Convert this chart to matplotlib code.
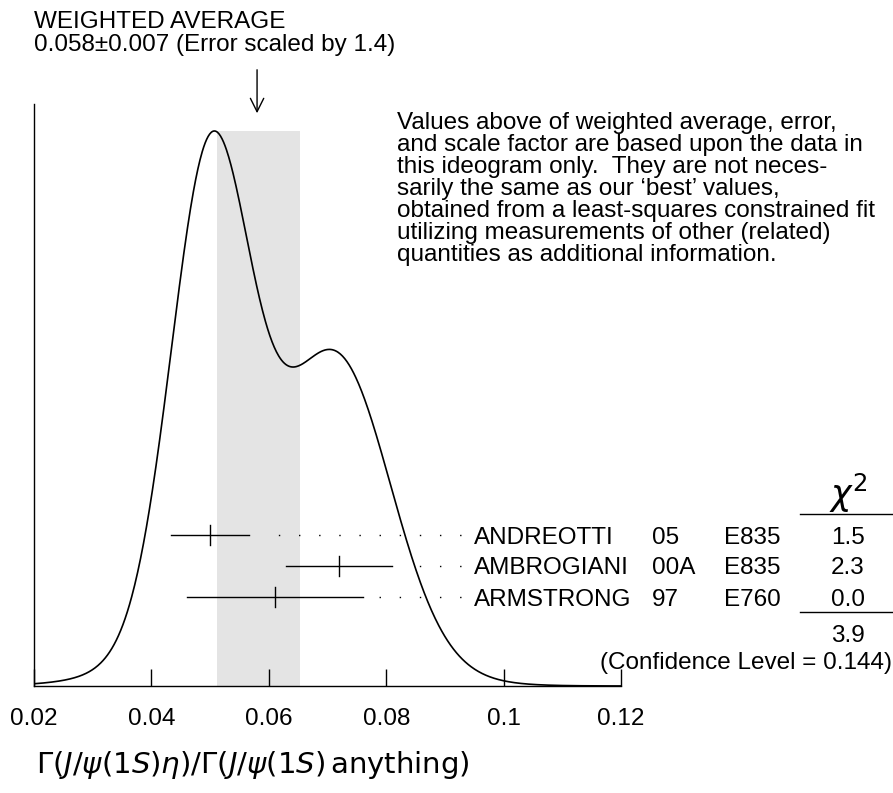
import numpy as np
import matplotlib
matplotlib.use('Agg')
import matplotlib.pyplot as plt
import matplotlib.transforms as mtransforms

plt.rcParams['font.family'] = ['Liberation Sans', 'DejaVu Sans']
plt.rcParams['mathtext.fontset'] = 'dejavusans'

names = ['ANDREOTTI', 'AMBROGIANI', 'ARMSTRONG']
years = ['05', '00A', '97']
exps = ['E835', 'E835', 'E760']
values = [0.050, 0.072, 0.061]
errors = [0.0067, 0.009, 0.015]
chi2 = ['1.5', '2.3', '0.0']
chi2_total = '3.9'
conf_level = '0.144'
avg, avg_err, scale = 0.058, 0.007, 1.4
band = [0.0511, 0.0653]
xticks = [0.02, 0.04, 0.06, 0.08, 0.10, 0.12]
xticklabels = ['0.02', '0.04', '0.06', '0.08', '0.1', '0.12']

W, H = 893, 793
FS = 17.5
fig = plt.figure(figsize=(W / 100, H / 100), dpi=100)
ax = fig.add_axes([34 / W, (H - 686) / H, 587 / W, 582 / H])


def fy(py):
    return (H - py) / H


# ideogram: gaussians with height ~ 1/sigma^2
x = np.linspace(0.02, 0.12, 800)
v = np.array(values)
e = np.array(errors)
y = np.sum(np.exp(-0.5 * ((x[:, None] - v) / e) ** 2) / e ** 2, axis=1)
peak = y.max()
ymax = peak * 582 / 555

ax.fill_between(band, 0, peak, color='#e4e4e4', lw=0, zorder=0)
ax.plot(x, y, color='black', lw=1.2, zorder=3)
ax.set_xlim(0.02, 0.12)
ax.set_ylim(0, ymax)

for s in ['top', 'right']:
    ax.spines[s].set_visible(False)
ax.spines['left'].set_linewidth(1.0)
ax.spines['bottom'].set_linewidth(1.0)
ax.set_yticks([])
ax.set_xticks(xticks)
ax.set_xticklabels(xticklabels)
ax.tick_params(axis='x', direction='in', length=12.5, width=1.0,
               labelsize=FS, pad=16)

# data rows
tr = mtransforms.blended_transform_factory(ax.transData, fig.transFigure)
rows_px = [535, 566, 597]
dot_end = 0.02 + (461 - 34) / 5870
for i in range(len(names)):
    yy = fy(rows_px[i])
    ax.plot([values[i] - errors[i], values[i] + errors[i]], [yy, yy],
            transform=tr, color='black', lw=1.0, clip_on=False, zorder=4)
    ax.plot([values[i], values[i]], [yy - 10 / H, yy + 10 / H],
            transform=tr, color='black', lw=1.0, clip_on=False, zorder=4)
    ax.plot([dot_end, values[i] + errors[i] + 0.002], [yy, yy],
            transform=tr, color='black', lw=1.0,
            linestyle=(0, (1, 13.5)), clip_on=False, zorder=2)
    fig.text(474 / W, yy, names[i], fontsize=FS, va='center_baseline', ha='left')
    fig.text(652 / W, yy, years[i], fontsize=FS, va='center_baseline', ha='left')
    fig.text(724 / W, yy, exps[i], fontsize=FS, va='center_baseline', ha='left')
    fig.text(848 / W, yy, chi2[i], fontsize=FS, va='center_baseline', ha='center')

# chi2 column
fig.text(848 / W, fy(493), r'$\chi^2$', fontsize=25, va='center', ha='center')
fig.add_artist(plt.Line2D([800 / W, 1.0], [fy(514)] * 2, color='black', lw=1.0))
fig.add_artist(plt.Line2D([800 / W, 1.0], [fy(612)] * 2, color='black', lw=1.0))
fig.text(848 / W, fy(634), chi2_total, fontsize=FS, va='center_baseline', ha='center')
fig.text(892 / W, fy(661), f'(Confidence Level = {conf_level})',
         fontsize=FS, va='center_baseline', ha='right')

# weighted average annotation
fig.text(34 / W, fy(20), 'WEIGHTED AVERAGE', fontsize=FS, va='center_baseline', ha='left')
fig.text(34 / W, fy(42),
         f'{avg:.3f}\u00b1{avg_err:.3f} (Error scaled by {scale})',
         fontsize=FS, va='center_baseline', ha='left')
ax.annotate('', xy=(avg, fy(116)), xytext=(avg, fy(67)),
            xycoords=tr, textcoords=tr,
            arrowprops=dict(arrowstyle='->', color='black', lw=1.0,
                            mutation_scale=24))

note = ["Values above of weighted average, error,",
        "and scale factor are based upon the data in",
        "this ideogram only.  They are not neces-",
        "sarily the same as our \u2018best\u2019 values,",
        "obtained from a least-squares constrained fit",
        "utilizing measurements of other (related)",
        "quantities as additional information."]
for k, line in enumerate(note):
    fig.text(397 / W, fy(121 + 22 * k), line, fontsize=FS,
             va='center_baseline', ha='left')

fig.text(36 / W, fy(765),
         r'$\Gamma\left(J/\psi(1S)\eta\right)/\Gamma\left(J/\psi(1S)\,\mathrm{anything}\right)$',
         fontsize=21, va='center', ha='left')

fig.savefig('out.png', dpi=100)
